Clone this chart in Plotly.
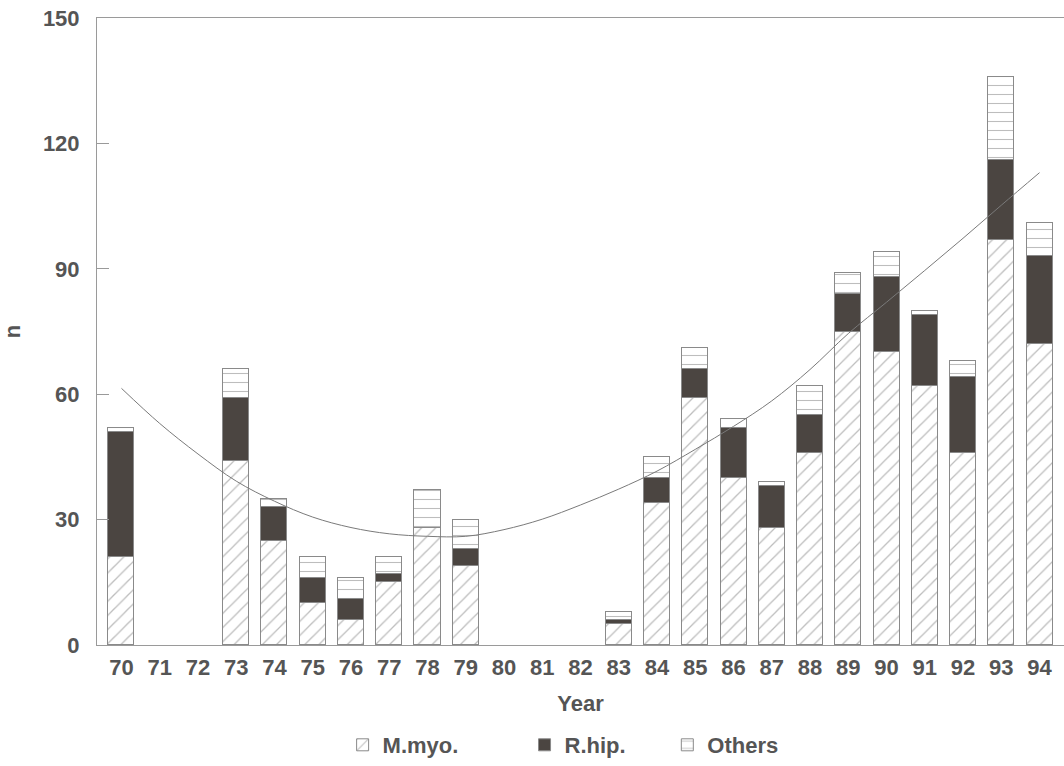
import plotly.graph_objects as go

# Yearly case counts by group
years = list(range(70, 95))
m_myo = [21, None, None, 44, 25, 10, 6, 15, 28, 19, None, None, None, 5, 34, 59, 40, 28, 46, 75, 70, 62, 46, 97, 72]
r_hip = [30, None, None, 15, 8, 6, 5, 2, 0, 4, None, None, None, 1, 6, 7, 12, 10, 9, 9, 18, 17, 18, 19, 21]
others = [1, None, None, 7, 2, 5, 5, 4, 9, 7, None, None, None, 2, 5, 5, 2, 1, 7, 5, 6, 1, 4, 20, 8]

# Trend curve values per year
trend = [61.4, 53.0, 45.7, 39.2, 34.4, 30.6, 28.1, 26.6, 26.0, 26.0, 27.6, 30.1, 33.5, 37.3,
         41.6, 46.8, 52.3, 58.4, 65.9, 74.5, 82.0, 89.6, 97.3, 105.2, 113.0]

y_ticks = [0, 30, 60, 90, 120, 150]

TEXT = "#555555"
EDGE = "#8a8a8a"
HATCH = "#7c7c7c"
DARK = "#4b4541"
FONT = "Liberation Sans"
FS = 22
NB = "\u00a0"  # spacing after legend labels

fig = go.Figure()

bar_common = dict(x=years, width=0.68)

fig.add_trace(go.Bar(
    y=m_myo, name="M.myo." + NB * 10, **bar_common,
    marker=dict(color="white", line=dict(color=EDGE, width=1),
                pattern=dict(shape="/", size=10, solidity=0.13, fgcolor=HATCH, bgcolor="white")),
))
fig.add_trace(go.Bar(
    y=r_hip, name="R.hip." + NB * 6, **bar_common,
    marker=dict(color=DARK, line=dict(color=EDGE, width=1)),
))
fig.add_trace(go.Bar(
    y=others, name="Others", **bar_common,
    marker=dict(color="white", line=dict(color=EDGE, width=1),
                pattern=dict(shape="-", size=9, solidity=0.12, fgcolor=HATCH, bgcolor="white")),
))

fig.add_trace(go.Scatter(
    x=years, y=trend, mode="lines", line=dict(color="#7a7a7a", width=1, shape="spline"),
    showlegend=False, hoverinfo="skip",
))

fig.update_layout(
    width=1064, height=766,
    barmode="stack",
    plot_bgcolor="white", paper_bgcolor="white",
    margin=dict(l=97, r=0, t=18, b=121),
    font=dict(family=FONT, color=TEXT, size=FS, weight="bold"),
    bargap=0,
    legend=dict(orientation="h", x=0.254, xanchor="left", y=-0.16, yanchor="middle",
                font=dict(size=FS, color=TEXT, family=FONT, weight="bold"),
                traceorder="normal"),
)

fig.update_xaxes(
    range=[69.36, 94.64],
    tickvals=years, ticktext=[str(y) for y in years],
    ticks="", showline=True, linecolor="#9a9a9a", linewidth=1, mirror=True,
    showgrid=False, zeroline=False,
    ticklabelstandoff=3,
    tickfont=dict(size=FS, color=TEXT, family=FONT, weight="bold"),
    title=dict(text="Year", standoff=16, font=dict(size=FS, color=TEXT, family=FONT, weight="bold")),
)
fig.update_yaxes(
    range=[0, 150],
    tickvals=y_ticks,
    ticks="inside", ticklen=12, tickcolor="#9a9a9a",
    showline=True, linecolor="#9a9a9a", linewidth=1,
    showgrid=False, zeroline=False,
    ticklabelstandoff=12,
    tickfont=dict(size=FS, color=TEXT, family=FONT, weight="bold"),
    title=dict(text="n", standoff=26, font=dict(size=FS, color=TEXT, family=FONT, weight="bold")),
)

fig.write_html("out.html")
